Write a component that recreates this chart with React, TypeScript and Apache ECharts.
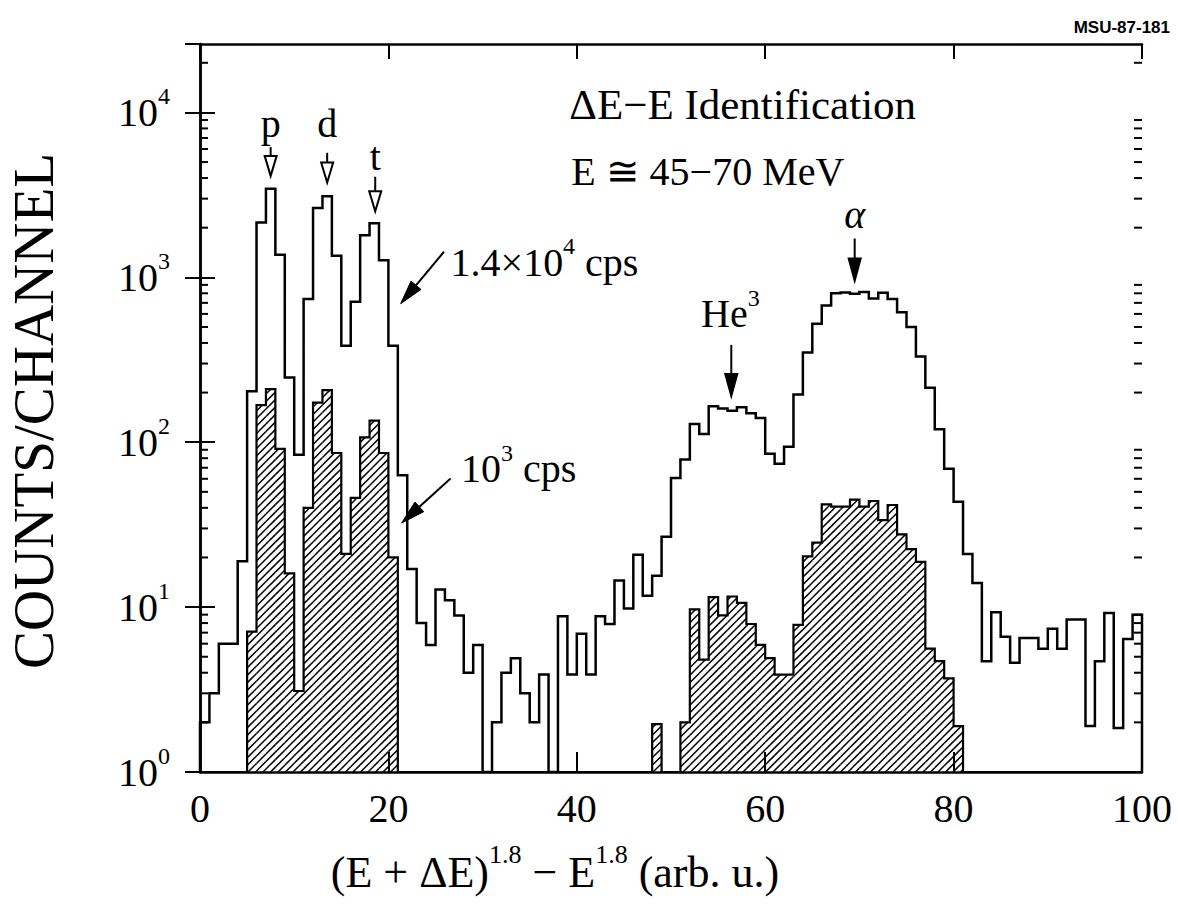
import React, { useEffect, useRef } from 'react';
import * as echarts from 'echarts';

// ---------- axes ----------
const X_MIN = 0;
const X_MAX = 100;
const X_INTERVAL = 20;
const Y_MIN = 1;
const Y_MAX = 26000;
const Y_DECADE_LABELS = ['0', '1', '2', '3', '4'];

// ---------- histogram data (bin i covers [i, i+1]) ----------
const BIN_WIDTH = 1;

// 1.4x10^4 cps spectrum (open histogram), counts per channel, 0 = empty
const OPEN_COUNTS = [
  2, 3, 6, 6, 19, 204, 2150, 3450, 1370, 247,
  84, 740, 2630, 3100, 1350, 385, 710, 1800, 2130, 1270,
  385, 63, 17, 8, 5.9, 12.8, 11, 8.9, 4, 5.9,
  0, 2, 4, 4.9, 3, 2, 3.9, 0, 8.8, 3.9,
  6.9, 3.9, 8.8, 7.9, 14.5, 9.8, 20.8, 11.7, 15.5, 26.7,
  60.6, 78.5, 129, 112, 165, 160, 155, 163, 150, 140,
  85, 74, 94, 195, 350, 523, 675, 800, 810, 795,
  815, 745, 807, 740, 615, 500, 331, 214, 120, 69,
  43.5, 21, 14, 4.7, 9.3, 6.6, 4.6, 6.5, 6.5, 5.6,
  7.4, 5.6, 8.4, 8.4, 1.9, 4.7, 9.2, 1.85, 6.4, 9,
];

// 10^3 cps spectrum (hatched histogram)
const HATCHED_COUNTS = [
  0, 0, 0, 0, 0, 7.1, 168, 210, 91, 16,
  3.1, 40, 174, 207, 86, 21, 46, 107, 135, 86,
  20, 0, 0, 0, 0, 0, 0, 0, 0, 0,
  0, 0, 0, 0, 0, 0, 0, 0, 0, 0,
  0, 0, 0, 0, 0, 0, 0, 0, 1.95, 0,
  0, 2, 9.7, 4.8, 11.5, 8.9, 11.6, 10.6, 7.9, 5.9,
  4.9, 3.9, 3.9, 7.8, 20.3, 24.6, 42, 40.7, 40.7, 44.8,
  40.7, 44, 33.7, 41.6, 27.6, 22.5, 18.8, 5.6, 4.7, 3.7,
  1.9, 0, 0, 0, 0, 0, 0, 0, 0, 0,
  0, 0, 0, 0, 0, 0, 0, 0, 0, 0,
];

// ---------- annotations (data coordinates: x, log10(y)) ----------
const PEAK_NAMES = ['p', 'd', 't'];
const PEAK_X = [7.5, 13.5, 18.6];
const PEAK_TEXT_LOG = [3.93, 3.93, 3.735];
const PEAK_ARROW_TOP_LOG = [3.79, 3.755, 3.61];
const PEAK_ARROW_TIP_LOG = [3.615, 3.575, 3.4];

const TITLE_LINE_1 = 'ΔE−E Identification';
const TITLE_LINE_2 = 'E ≅ 45−70 MeV';
const CODE_LABEL = 'MSU-87-181';

const FONT = "'Liberation Serif', 'DejaVu Serif', serif";

export default function App() {
  const ref = useRef<HTMLDivElement>(null);

  useEffect(() => {
    const el = ref.current!;
    const chart = echarts.init(el, undefined, { renderer: 'svg' });

    const floor = (v: number) => (v > 0 ? v : Y_MIN);
    const stepData = (counts: number[]) => {
      const pts: number[][] = [[X_MIN, Y_MIN]];
      counts.forEach((v, i) => pts.push([X_MIN + i * BIN_WIDTH, floor(v)]));
      const end = X_MIN + counts.length * BIN_WIDTH;
      pts.push([end, floor(counts[counts.length - 1])]);
      pts.push([end, Y_MIN]);
      return pts;
    };
    const hatchData = HATCHED_COUNTS.map((v, i) => [X_MIN + i * BIN_WIDTH, v]).filter((d) => d[1] > 0);

    const minorData: number[][] = [];
    for (let e = 0; e <= 4; e++) {
      for (let k = 2; k <= 9; k++) {
        const v = k * Math.pow(10, e);
        if (v < Y_MAX) minorData.push([X_MIN, v]);
      }
    }

    const HATCH_GAP = 7.5;
    const renderHatch = (params: any, api: any) => {
      const x = api.value(0);
      const v = api.value(1);
      const a = api.coord([x, v]);
      const b = api.coord([x + BIN_WIDTH, Y_MIN]);
      const x0 = a[0], x1 = b[0], yt = a[1], yb = b[1];
      const children: any[] = [];
      const cStart = Math.ceil((x0 + yt) / HATCH_GAP) * HATCH_GAP;
      for (let c = cStart; c <= x1 + yb; c += HATCH_GAP) {
        const xa = Math.max(x0, c - yb);
        const xb = Math.min(x1, c - yt);
        if (xb - xa > 0.3) {
          children.push({
            type: 'line',
            shape: { x1: xa, y1: c - xa, x2: xb, y2: c - xb },
            style: { stroke: '#000', lineWidth: 1.5 },
          });
        }
      }
      return { type: 'group', children };
    };

    const renderMinor = (params: any, api: any) => {
      const v = api.value(1);
      const l = api.coord([X_MIN, v]);
      const r = api.coord([X_MAX, v]);
      const st = { stroke: '#000', lineWidth: 2 };
      return {
        type: 'group',
        children: [
          { type: 'line', shape: { x1: l[0], y1: l[1], x2: l[0] + 8, y2: l[1] }, style: st },
          { type: 'line', shape: { x1: r[0] - 8, y1: r[1], x2: r[0], y2: r[1] }, style: st },
        ],
      };
    };

    const axisLine = { show: true, lineStyle: { color: '#000', width: 2.5 } };
    const yRich = {
      b: { fontFamily: FONT, fontSize: 40, lineHeight: 56, color: '#000' },
      s: { fontFamily: FONT, fontSize: 24, lineHeight: 24, verticalAlign: 'top', color: '#000' },
    };

    const option: any = {
      animation: false,
      backgroundColor: '#fff',
      grid: { left: 200, right: 36, top: 44, bottom: 146 },
      xAxis: [
        {
          type: 'value', min: X_MIN, max: X_MAX, interval: X_INTERVAL, position: 'bottom',
          axisLine,
          axisTick: { show: true, inside: true, length: 20, lineStyle: { color: '#000', width: 2 } },
          axisLabel: { margin: 16, fontFamily: FONT, fontSize: 40, color: '#000' },
          splitLine: { show: false },
        },
        {
          type: 'value', min: X_MIN, max: X_MAX, interval: X_INTERVAL, position: 'top',
          axisLine,
          axisTick: { show: true, inside: true, length: 15, lineStyle: { color: '#000', width: 2 } },
          axisLabel: { show: false },
          splitLine: { show: false },
        },
      ],
      yAxis: [
        {
          type: 'log', logBase: 10, min: Y_MIN, max: Y_MAX, position: 'left',
          axisLine,
          axisTick: { show: true, inside: true, length: 15, lineStyle: { color: '#000', width: 2 } },
          axisLabel: {
            margin: 30,
            showMaxLabel: false,
            formatter: (v: number) => {
              const e = Math.log10(v);
              const r = Math.round(e);
              if (Math.abs(e - r) > 1e-6) return '';
              return `{b|10}{s|${Y_DECADE_LABELS[r]}}`;
            },
            rich: yRich,
          },
          splitLine: { show: false },
        },
        {
          type: 'log', logBase: 10, min: Y_MIN, max: Y_MAX, position: 'right',
          axisLine,
          axisTick: { show: true, inside: true, length: 15, lineStyle: { color: '#000', width: 2 } },
          axisLabel: { show: false },
          splitLine: { show: false },
        },
      ],
      series: [
        {
          type: 'custom', name: 'hatch 10^3 cps', coordinateSystem: 'cartesian2d',
          xAxisIndex: 0, yAxisIndex: 0, renderItem: renderHatch, data: hatchData, z: 1, silent: true,
        },
        {
          type: 'line', name: '10^3 cps', step: 'end', data: stepData(HATCHED_COUNTS),
          symbol: 'none', lineStyle: { color: '#000', width: 2.2, join: 'miter' }, z: 2, silent: true,
        },
        {
          type: 'line', name: '1.4x10^4 cps', step: 'end', data: stepData(OPEN_COUNTS),
          symbol: 'none', lineStyle: { color: '#000', width: 2.5, join: 'miter' }, z: 3, silent: true,
        },
        {
          type: 'custom', name: 'minor ticks', coordinateSystem: 'cartesian2d',
          xAxisIndex: 0, yAxisIndex: 0, renderItem: renderMinor, data: minorData, z: 4, silent: true,
        },
      ],
    };

    chart.setOption(option);

    const P = (x: number, ly: number) =>
      chart.convertToPixel({ xAxisIndex: 0, yAxisIndex: 0 }, [x, Math.pow(10, ly)]) as number[];

    const text = (t: string, x: number, y: number, align: string, size: number, extra: any = {}) => ({
      type: 'text', x, y, z: 100,
      style: {
        text: t, align, verticalAlign: 'middle', textAlign: align, textVerticalAlign: 'middle',
        fontFamily: FONT, fontSize: size, fill: '#000', ...extra,
      },
    });
    const supRich = (base: number, sup: number) => ({
      b: { fontFamily: FONT, fontSize: base, lineHeight: Math.round(base * 1.4), fill: '#000', color: '#000' },
      s: { fontFamily: FONT, fontSize: sup, lineHeight: sup, verticalAlign: 'top', fill: '#000', color: '#000' },
    });

    const downArrow = (x: number, topLog: number, tipLog: number, hollow: boolean, headLen: number, half: number) => {
      const t = P(x, topLog);
      const tip = P(x, tipLog);
      const baseY = tip[1] - headLen;
      return [
        { type: 'line', z: 100, shape: { x1: tip[0], y1: t[1], x2: tip[0], y2: hollow ? baseY : baseY + 4 }, style: { stroke: '#000', lineWidth: 2 } },
        {
          type: 'polygon', z: 101,
          shape: { points: [[tip[0] - half, baseY], [tip[0] + half, baseY], [tip[0], tip[1]]] },
          style: { fill: hollow ? '#fff' : '#000', stroke: '#000', lineWidth: 2, lineJoin: 'miter' },
        },
      ];
    };
    const diagArrow = (fx: number, fLog: number, tx: number, tLog: number) => {
      const a = P(fx, fLog);
      const b = P(tx, tLog);
      const dx = b[0] - a[0], dy = b[1] - a[1];
      const len = Math.sqrt(dx * dx + dy * dy);
      const ux = dx / len, uy = dy / len;
      const headLen = 24, half = 6.5;
      const bx = b[0] - ux * headLen, by = b[1] - uy * headLen;
      return [
        { type: 'line', z: 100, shape: { x1: a[0], y1: a[1], x2: bx + ux * 4, y2: by + uy * 4 }, style: { stroke: '#000', lineWidth: 2 } },
        {
          type: 'polygon', z: 101,
          shape: { points: [[b[0], b[1]], [bx - uy * half, by + ux * half], [bx + uy * half, by - ux * half]] },
          style: { fill: '#000', stroke: '#000', lineWidth: 1 },
        },
      ];
    };

    const g: any[] = [];
    PEAK_NAMES.forEach((name, i) => {
      const tp = P(PEAK_X[i], PEAK_TEXT_LOG[i]);
      g.push(text(name, tp[0], tp[1], 'center', 40, { lineHeight: 30 }));
      g.push(...downArrow(PEAK_X[i], PEAK_ARROW_TOP_LOG[i], PEAK_ARROW_TIP_LOG[i], true, 20, 6));
    });

    const t1 = P(39.2, 4.05);
    g.push(text(TITLE_LINE_1, t1[0], t1[1], 'left', 43, { lineHeight: 36 }));
    const t2 = P(39.4, 3.64);
    g.push(text(TITLE_LINE_2, t2[0], t2[1], 'left', 40, { lineHeight: 32 }));

    const c1 = P(26.6, 3.09);
    g.push(text('{b|1.4×10}{s|4}{b| cps}', c1[0], c1[1], 'left', 40, { rich: supRich(40, 24) }));
    g.push(...diagArrow(25.9, 3.155, 21.3, 2.84));

    const c2 = P(27.7, 1.84);
    g.push(text('{b|10}{s|3}{b| cps}', c2[0], c2[1], 'left', 40, { rich: supRich(40, 24) }));
    g.push(...diagArrow(26.6, 1.78, 21.4, 1.51));

    const he = P(56.3, 2.78);
    g.push(text('{b|He}{s|3}', he[0], he[1], 'center', 40, { rich: supRich(40, 24) }));
    g.push(...downArrow(56.4, 2.59, 2.28, false, 22, 6));

    const al = P(69.5, 3.38);
    g.push(text('α', al[0], al[1], 'center', 40, { fontStyle: 'italic', lineHeight: 24 }));
    g.push(...downArrow(69.5, 3.235, 2.98, false, 22, 6));

    // axis titles
    g.push(text('{b|(E + ΔE)}{s|1.8}{b| − E}{s|1.8}{b| (arb. u.)}', 555, 872, 'center', 44, { rich: supRich(44, 26) }));
    g.push({
      type: 'text', x: 33, y: 411, rotation: Math.PI / 2, z: 100,
      style: {
        text: 'COUNTS/CHANNEL', align: 'center', verticalAlign: 'middle', textAlign: 'center', textVerticalAlign: 'middle',
        fontFamily: FONT, fontSize: 57, fill: '#000',
      },
    });
    g.push({
      type: 'text', x: 1170, y: 27, z: 100,
      style: {
        text: CODE_LABEL, align: 'right', verticalAlign: 'middle', textAlign: 'right', textVerticalAlign: 'middle',
        fontFamily: "'Liberation Sans', Arial, sans-serif", fontWeight: 'bold', fontSize: 17, fill: '#000',
      },
    });

    chart.setOption({ graphic: { elements: g } });

    return () => {
      chart.dispose();
    };
  }, []);

  return (
    <div
      ref={ref}
      style={{ position: 'absolute', left: 0, top: 0, width: 1178, height: 918, background: '#fff' }}
    />
  );
}
